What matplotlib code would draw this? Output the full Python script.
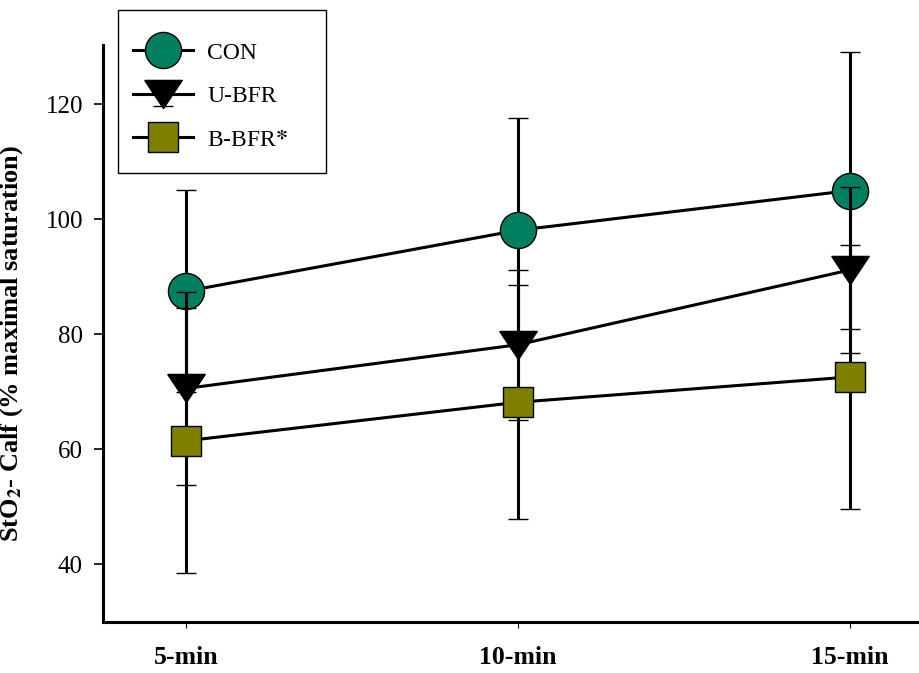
import matplotlib
matplotlib.use("Agg")
import matplotlib.pyplot as plt
from matplotlib.patches import Rectangle

plt.rcParams['font.family'] = ['Liberation Serif', 'DejaVu Serif']
plt.rcParams['mathtext.fontset'] = 'stix'

# data
times = ['5-min', '10-min', '15-min']
con_mean = [87.5, 98.1, 105.0]
con_sd = [17.6, 19.5, 24.0]
ubfr_mean = [70.6, 78.2, 91.2]
ubfr_sd = [16.8, 13.0, 14.5]
bbfr_mean = [61.5, 68.2, 72.6]
bbfr_sd = [23.0, 20.3, 23.0]

x = [1, 2, 3]
W, H = 919, 673

fig = plt.figure(figsize=(W / 100, H / 100), dpi=100)
ax = fig.add_axes([103 / W, 51 / H, 830 / W, 577 / H])

# flattened downward triangle
tri = [(-1, 0.75), (1, 0.75), (0, -0.75), (-1, 0.75)]

series = [
    ('CON', con_mean, con_sd, 'o', '#008060', 26),
    ('U-BFR', ubfr_mean, ubfr_sd, tri, 'black', 27),
    (r'B-BFR$\mathbf{*}$', bbfr_mean, bbfr_sd, 's', '#808000', 22),
]

for i, (name, m, sd, mk, col, ms) in enumerate(series):
    ax.errorbar(x, m, yerr=sd, fmt='-', color='black', lw=2.2,
                elinewidth=2.2, capsize=7, capthick=2.2,
                marker=mk, markersize=ms, markerfacecolor=col,
                markeredgecolor='black', markeredgewidth=1.0,
                label=name, zorder=3 + i)

ax.set_xlim(0.75, 3.25)
ax.set_ylim(30, 130.3)
ax.set_yticks([40, 60, 80, 100, 120])
ax.set_xticks(x)
ax.set_xticklabels(times, fontweight='bold', fontsize=18.5)

for s in ['top', 'right']:
    ax.spines[s].set_visible(False)
for s in ['left', 'bottom']:
    ax.spines[s].set_linewidth(2.2)

ax.tick_params(axis='y', direction='out', length=6.5, width=1.2, labelsize=18, pad=8)
ax.tick_params(axis='x', direction='out', length=4.5, width=0.8, pad=13)

fig.text(25 / W, 0.489, r'StO$_\mathbf{2}$- Calf (% maximal saturation)',
         rotation=90, ha='right', va='center', fontsize=19, fontweight='bold')

# legend without its own frame, box drawn separately
leg = ax.legend(loc='upper left', bbox_to_anchor=(133 / W, 1 - 42 / H),
                bbox_transform=fig.transFigure, fontsize=17, frameon=False,
                handlelength=2.54, handletextpad=0.6, labelspacing=0.93,
                borderpad=0, borderaxespad=0)
fig.patches.append(Rectangle((118 / W, 1 - 173 / H), 208 / W, 163 / H,
                             transform=fig.transFigure, fill=False,
                             edgecolor='black', linewidth=1.0, zorder=10))

fig.savefig('out.png', dpi=100)
